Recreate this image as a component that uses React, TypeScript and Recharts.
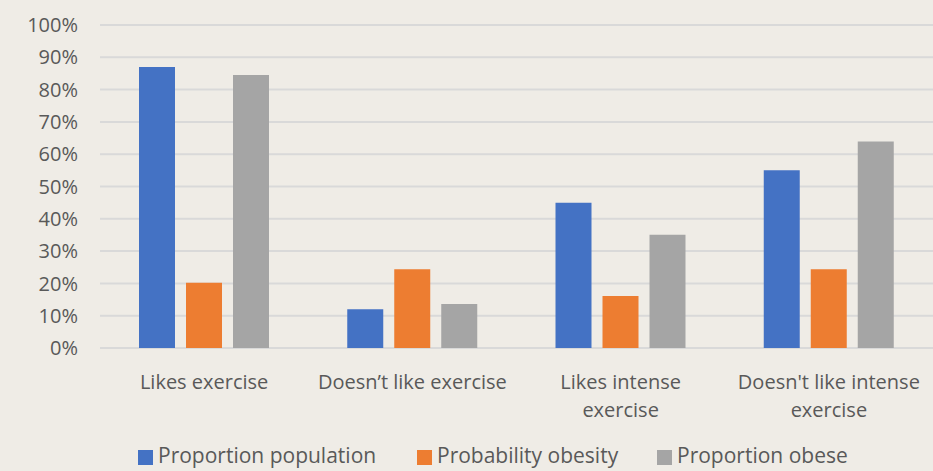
import React from 'react';
import { BarChart, Bar, XAxis, YAxis, CartesianGrid } from 'recharts';

// Exercise attitude vs obesity, values in percent
const categories = ['Likes exercise', 'Doesn’t like exercise', 'Likes intense exercise', "Doesn't like intense exercise"];
const categoryLines = [
  ['Likes exercise'],
  ['Doesn’t like exercise'],
  ['Likes intense', 'exercise'],
  ["Doesn't like intense", 'exercise'],
];
const proportionPopulation = [87, 12, 45, 55];
const probabilityObesity = [20.2, 24.4, 16.1, 24.4];
const proportionObese = [84.5, 13.6, 35.1, 63.9];
const percentTicks = [0, 10, 20, 30, 40, 50, 60, 70, 80, 90, 100];

const seriesNames = ['Proportion population', 'Probability obesity', 'Proportion obese'];
const seriesColors = ['#4472C4', '#ED7D31', '#A5A5A5'];
const seriesKeys = ['population', 'probability', 'obese'];

const W = 933;
const H = 471;
const FONT = '"Open Sans", sans-serif';
const TEXT = '#595959';

const rows = categories.map((name, i) => ({
  name,
  population: proportionPopulation[i],
  probability: probabilityObesity[i],
  obese: proportionObese[i],
}));

function CategoryTick(props: any) {
  const { x, y, index } = props;
  const lines = categoryLines[index] || [];
  return (
    <text x={x} y={y} textAnchor="middle" fill={TEXT} fontSize={20} fontFamily={FONT}>
      {lines.map((line, i) => (
        <tspan key={i} x={x} dy={i === 0 ? 41 : 28}>
          {line}
        </tspan>
      ))}
    </text>
  );
}

// legend item left edges
const legendLeft = [138, 417, 657];

export default function App() {
  return (
    <div style={{ position: 'absolute', left: 0, top: 0, width: W, height: H, background: '#EFECE6', overflow: 'hidden' }}>
      <BarChart
        width={W}
        height={H}
        data={rows}
        margin={{ top: 25, right: 0, left: 0, bottom: 0 }}
        barSize={36}
        barGap={11}
      >
        <CartesianGrid horizontal vertical={false} stroke="#D9D9D9" strokeWidth={2} />
        <XAxis
          dataKey="name"
          axisLine={false}
          tickLine={false}
          tickSize={0}
          tickMargin={0}
          height={123}
          interval={0}
          tick={<CategoryTick />}
        />
        <YAxis
          domain={[0, 100]}
          ticks={percentTicks}
          width={100}
          axisLine={false}
          tickLine={false}
          tickSize={0}
          tickMargin={22}
          tickFormatter={(v) => `${v}%`}
          tick={{ fill: TEXT, fontSize: 20, fontFamily: FONT }}
        />
        {seriesKeys.map((key, i) => (
          <Bar key={key} dataKey={key} name={seriesNames[i]} fill={seriesColors[i]} isAnimationActive={false} />
        ))}
      </BarChart>

      {seriesNames.map((name, i) => (
        <div
          key={name}
          style={{
            position: 'absolute',
            left: legendLeft[i],
            top: 441,
            display: 'flex',
            alignItems: 'center',
            fontFamily: FONT,
            fontSize: 21,
            color: TEXT,
            whiteSpace: 'nowrap',
            lineHeight: '28px',
          }}
        >
          <span style={{ display: 'inline-block', width: 15, height: 15, background: seriesColors[i], marginRight: 5, marginTop: 4 }} />
          {name}
        </div>
      ))}
    </div>
  );
}
